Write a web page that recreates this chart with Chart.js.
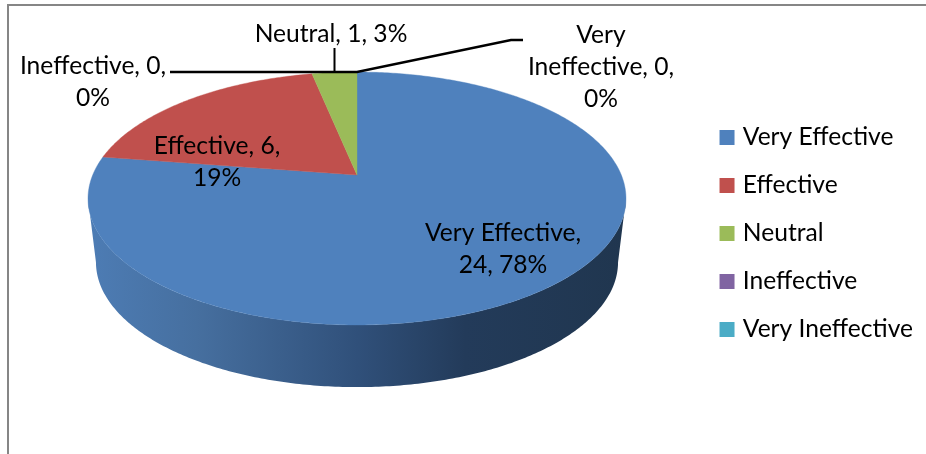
<!DOCTYPE html>
<html>
<head>
<meta charset="utf-8">
<style>html,body{margin:0;padding:0;background:#fff;overflow:hidden}canvas{display:block}</style>
<script src="https://cdn.jsdelivr.net/npm/chart.js@4"></script>
</head>
<body>
<canvas id="c" width="926" height="454"></canvas>
<script>
const categories = ["Very Effective", "Effective", "Neutral", "Ineffective", "Very Ineffective"];
const values = [24, 6, 1, 0, 0];
const percentLabels = ["78%", "19%", "3%", "0%", "0%"];
const colors = ["#4f81bd", "#c0504d", "#9bbb59", "#8064a2", "#4bacc6"];
const labelBreaks = [
  ["Very Effective,", "24, 78%"],
  ["Effective, 6,", "19%"],
  ["Neutral, 1, 3%"],
  ["Ineffective, 0,", "0%"],
  ["Very", "Ineffective, 0,", "0%"]
];
const labelAnchors = [[503, 233], [217, 146], [331, 34], [93, 66], [601, 35]];
const FONT = '24.6px Lato, Carlito, sans-serif';
const LINE = 32;

// perspective view of the pie disc
const top_ = {cx: 357, y: 175, a: 264.3, b: 122.1};
const bot_ = {cx: 357, y: 239, a: 256.5, b: 120.6};
const K = 0.1858;
const project = (ring, ang) => {
  const u = Math.cos(ang), v = Math.sin(ang), w = 1 - K * v;
  return [ring.cx + ring.a * u / w, ring.y + ring.b * v / w];
};

const pie3d = {
  id: 'pie3d',
  beforeDraw(chart) {
    const c = chart.ctx;
    c.save();
    c.fillStyle = '#fff';
    c.fillRect(0, 0, chart.width, chart.height);
    c.fillStyle = '#868686';
    c.fillRect(7, 4, chart.width - 7, 2);
    c.fillRect(7, 4, 2, chart.height - 4);
    c.restore();
  },
  beforeDatasetDraw(chart) {
    const c = chart.ctx;
    const arcs = chart.getDatasetMeta(0).data;
    c.save();
    // front wall
    const a0 = Math.asin(K), a1 = Math.PI - Math.asin(K);
    const g = c.createLinearGradient(90, 0, 626, 0);
    g.addColorStop(0, '#4d7cb4');
    g.addColorStop(0.2, '#466f9f');
    g.addColorStop(0.5, '#30507a');
    g.addColorStop(0.7, '#233b5a');
    g.addColorStop(1, '#20364f');
    c.fillStyle = g;
    c.beginPath();
    const N = 240;
    for (let i = 0; i <= N; i++) {
      const p = project(top_, a0 + (a1 - a0) * i / N);
      i ? c.lineTo(p[0], p[1]) : c.moveTo(p[0], p[1]);
    }
    for (let i = N; i >= 0; i--) {
      const p = project(bot_, a0 + (a1 - a0) * i / N);
      c.lineTo(p[0], p[1]);
    }
    c.closePath();
    c.fill();
    // top face, from the library's arc angles
    arcs.forEach((arc, idx) => {
      const s = arc.startAngle, e = arc.endAngle;
      if (e - s <= 0) return;
      c.fillStyle = colors[idx];
      c.strokeStyle = colors[idx];
      c.lineWidth = 0.4;
      c.beginPath();
      c.moveTo(top_.cx, top_.y);
      const n = Math.max(4, Math.ceil((e - s) * 80));
      for (let i = 0; i <= n; i++) {
        const p = project(top_, s + (e - s) * i / n);
        c.lineTo(p[0], p[1]);
      }
      c.closePath();
      c.fill();
      c.stroke();
    });
    c.restore();
    return false;
  },
  afterDatasetsDraw(chart) {
    const c = chart.ctx;
    c.save();
    c.strokeStyle = '#000';
    c.lineWidth = 2.5;
    c.beginPath();
    c.moveTo(170, 72); c.lineTo(357, 72); c.lineTo(511, 40); c.lineTo(523, 40);
    c.stroke();
    c.lineWidth = 2;
    c.beginPath();
    c.moveTo(334.5, 48); c.lineTo(334.5, 72);
    c.stroke();
    c.fillStyle = '#000';
    c.font = FONT;
    c.textAlign = 'center';
    c.textBaseline = 'middle';
    labelBreaks.forEach((lines, i) => {
      lines.forEach((t, j) => c.fillText(t, labelAnchors[i][0], labelAnchors[i][1] + j * LINE));
    });
    c.restore();
  }
};

new Chart(document.getElementById('c'), {
  type: 'pie',
  data: {
    labels: categories,
    datasets: [{data: values, backgroundColor: colors, borderWidth: 0}]
  },
  plugins: [pie3d],
  options: {
    responsive: false,
    animation: false,
    layout: {padding: {right: 3, top: 13, bottom: 0}},
    plugins: {
      tooltip: {enabled: false},
      legend: {
        position: 'right',
        labels: {
          font: {family: 'Lato, Carlito, sans-serif', size: 24.6},
          color: '#000',
          boxWidth: 7,
          boxHeight: 7,
          padding: 23.4,
          generateLabels: () => categories.map((t, i) => ({
            text: t, fillStyle: colors[i], strokeStyle: colors[i], lineWidth: 8, hidden: false, index: i
          }))
        }
      }
    }
  }
});
</script>
</body>
</html>
